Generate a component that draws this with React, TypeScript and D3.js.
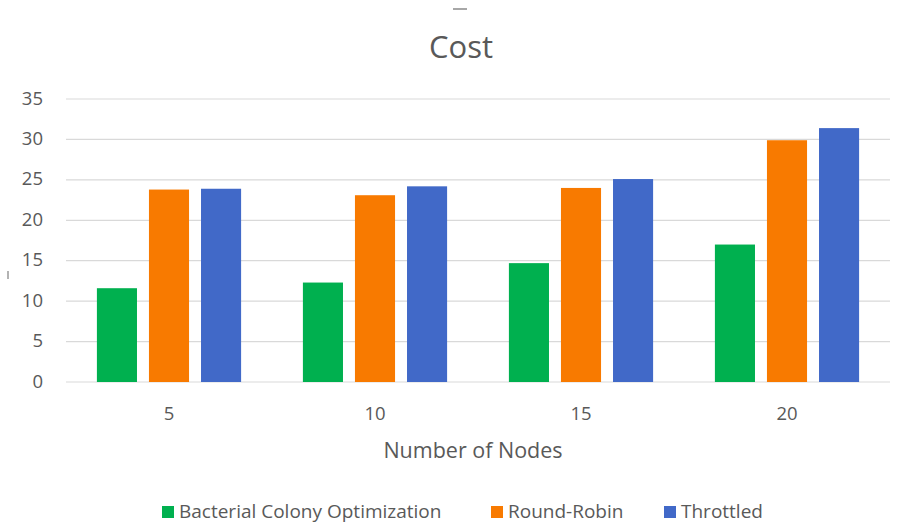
import React, { useEffect, useRef } from "react";
import * as d3 from "d3";

const categories = ["5", "10", "15", "20"];
const seriesNames = ["Bacterial Colony Optimization", "Round-Robin", "Throttled"];
const bcoValues = [11.6, 12.3, 14.7, 17.0];
const roundRobinValues = [23.8, 23.1, 24.0, 29.9];
const throttledValues = [23.9, 24.2, 25.1, 31.4];
const colors = ["#00b04f", "#f87a00", "#4169c8"];
const yTicks = [0, 5, 10, 15, 20, 25, 30, 35];

const W = 906;
const H = 524;
const font = "'Open Sans', 'Noto Sans', sans-serif";
const textColor = "#595959";

function App() {
  const ref = useRef<SVGSVGElement | null>(null);

  useEffect(() => {
    const svg = d3.select(ref.current);
    svg.selectAll("*").remove();

    const series = [bcoValues, roundRobinValues, throttledValues];

    const x = d3.scaleBand().domain(categories).range([66, 890]).paddingInner(0.3).paddingOuter(0.15);
    const xInner = d3
      .scaleBand()
      .domain(seriesNames)
      .range([0, x.bandwidth()])
      .paddingInner(0.23);
    const y = d3.scaleLinear().domain([0, 35]).range([382, 99]);

    // small scan marks in the source picture
    svg.append("line")
      .attr("x1", 453).attr("x2", 467).attr("y1", 9).attr("y2", 9)
      .attr("stroke", "#8a8a8a").attr("stroke-width", 1.5);
    svg.append("line")
      .attr("x1", 8).attr("x2", 8).attr("y1", 271).attr("y2", 279)
      .attr("stroke", "#9a9a9a").attr("stroke-width", 1.5);

    // title
    svg.append("text")
      .attr("x", 461)
      .attr("y", 58)
      .attr("text-anchor", "middle")
      .attr("font-family", font)
      .attr("font-size", 31)
      .attr("fill", textColor)
      .text("Cost");

    // grid
    svg.append("g")
      .selectAll("line")
      .data(yTicks)
      .enter()
      .append("line")
      .attr("x1", 66)
      .attr("x2", 890)
      .attr("y1", d => y(d))
      .attr("y2", d => y(d))
      .attr("stroke", "#d9d9d9")
      .attr("stroke-width", 1.2);

    svg.append("g")
      .selectAll("text")
      .data(yTicks)
      .enter()
      .append("text")
      .attr("x", 43)
      .attr("y", d => y(d))
      .attr("dy", "0.3em")
      .attr("text-anchor", "end")
      .attr("font-family", font)
      .attr("font-size", 18.5)
      .attr("fill", textColor)
      .text(d => d);

    // bars
    series.forEach((vals, si) => {
      svg.append("g")
        .selectAll("rect")
        .data(vals)
        .enter()
        .append("rect")
        .attr("x", (d, i) => (x(categories[i]) as number) + (xInner(seriesNames[si]) as number))
        .attr("y", d => y(d))
        .attr("width", xInner.bandwidth())
        .attr("height", d => y(0) - y(d))
        .attr("fill", colors[si]);
    });

    // x labels
    svg.append("g")
      .selectAll("text")
      .data(categories)
      .enter()
      .append("text")
      .attr("x", d => (x(d) as number) + x.bandwidth() / 2)
      .attr("y", 420)
      .attr("text-anchor", "middle")
      .attr("font-family", font)
      .attr("font-size", 18.5)
      .attr("fill", textColor)
      .text(d => d);

    svg.append("text")
      .attr("x", 473)
      .attr("y", 458)
      .attr("text-anchor", "middle")
      .attr("font-family", font)
      .attr("font-size", 21.5)
      .attr("fill", textColor)
      .text("Number of Nodes");

    // legend
    const legendX = [162, 491, 664];
    const lg = svg.append("g");
    seriesNames.forEach((name, i) => {
      lg.append("rect")
        .attr("x", legendX[i])
        .attr("y", 506)
        .attr("width", 12)
        .attr("height", 12)
        .attr("fill", colors[i]);
      lg.append("text")
        .attr("x", legendX[i] + 17)
        .attr("y", 517.5)
        .attr("font-family", font)
        .attr("font-size", 19)
        .attr("fill", textColor)
        .text(name);
    });
  }, []);

  return (
    <div>
      <svg ref={ref} width={W} height={H} style={{ position: "absolute", left: 0, top: 0, background: "#fff" }}></svg>
    </div>
  );
}

export default App;
